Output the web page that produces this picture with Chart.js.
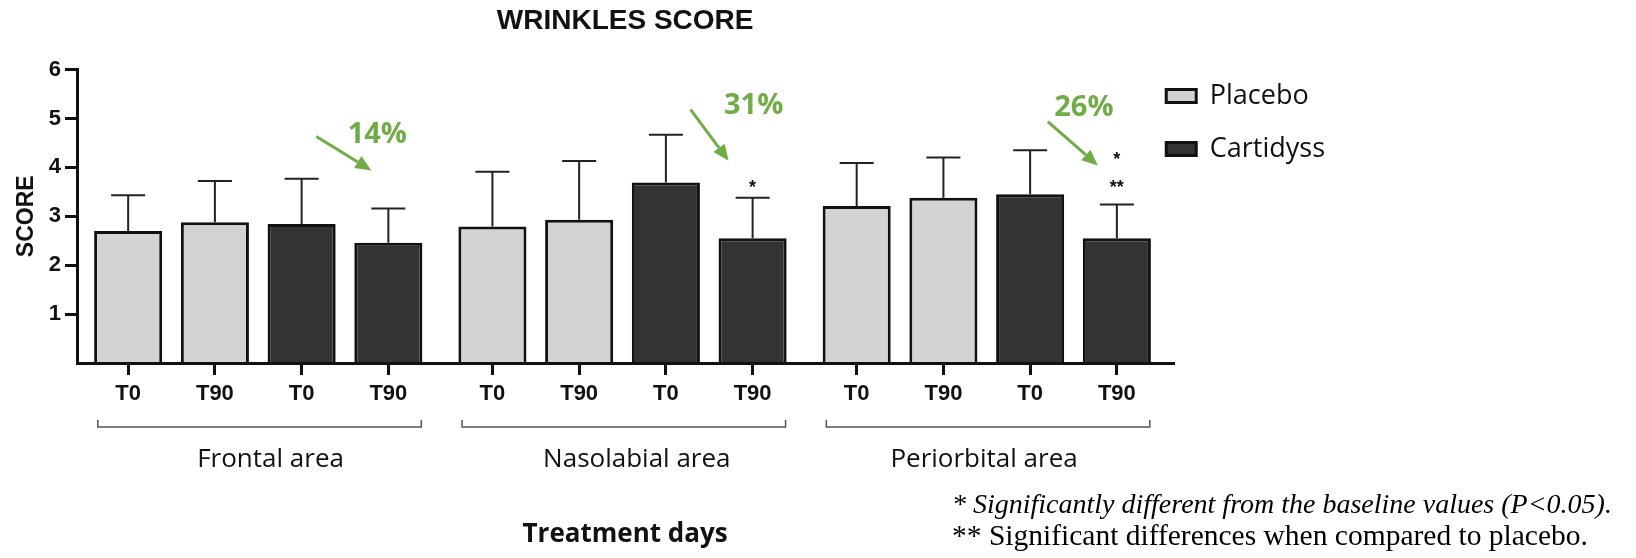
<!DOCTYPE html>
<html>
<head>
<meta charset="utf-8">
<script src="https://cdn.jsdelivr.net/npm/chart.js@4.4.1/dist/chart.umd.min.js"></script>
<style>
  html, body { margin: 0; padding: 0; background: #fff; }
  #wrap { width: 1636px; height: 558px; position: relative; }
</style>
</head>
<body>
<div id="wrap"><canvas id="myChart"></canvas></div>
<script>
const ctx = document.getElementById('myChart').getContext('2d');

// data (mean score and upper error bar)
const areas = ['Frontal area', 'Nasolabial area', 'Periorbital area'];
const timepoints = ['T0', 'T90'];
// per area: T0, T90
const placeboMean = [2.70, 2.88, 2.79, 2.93, 3.21, 3.38];
const placeboSD = [0.73, 0.84, 1.12, 1.20, 0.88, 0.82];
const cartidyssMean = [2.84, 2.46, 3.69, 2.55, 3.45, 2.55];
const cartidyssSD = [0.93, 0.70, 0.98, 0.83, 0.90, 0.69];
const yTicks = [1, 2, 3, 4, 5, 6];
// annotations on the Cartidyss T90 bar of each area
const reduction = ['14%', '31%', '26%'];
const sigBaseline = [false, true, true];
const sigPlacebo = [false, false, true];
const footnotes = [
    '* Significantly different from the baseline values (P<0.05).',
    '** Significant differences when compared to placebo.',
];

const GREEN = '#70ad47';
const GROUP_GAP = 0.2; // extra space between areas, in bar slots
const slotX = (area, slot) => area * 4 + slot + area * GROUP_GAP;

const placeboPoints = [];
const cartidyssPoints = [];
const tickPositions = [];
areas.forEach((a, k) => {
    timepoints.forEach((t, j) => {
        placeboPoints.push({ x: slotX(k, j), y: placeboMean[2 * k + j] });
        cartidyssPoints.push({ x: slotX(k, 2 + j), y: cartidyssMean[2 * k + j] });
    });
    for (let s = 0; s < 4; s++) tickPositions.push(slotX(k, s));
});

Chart.defaults.font.family = '"Liberation Sans", Arial, sans-serif';
Chart.defaults.color = '#111';

// upward error bars with caps
const errorBars = {
    id: 'errorBars',
    afterDatasetsDraw(chart) {
        const c = chart.ctx;
        const y = chart.scales.y;
        const sds = [placeboSD, cartidyssSD];
        c.save();
        c.strokeStyle = '#222';
        c.lineWidth = 2;
        chart.data.datasets.forEach((ds, d) => {
            chart.getDatasetMeta(d).data.forEach((bar, i) => {
                const top = y.getPixelForValue(ds.data[i].y + sds[d][i]);
                const half = bar.width / 4;
                c.beginPath();
                c.moveTo(bar.x, bar.y);
                c.lineTo(bar.x, top);
                c.moveTo(bar.x - half, top);
                c.lineTo(bar.x + half, top);
                c.stroke();
            });
        });
        c.restore();
    }
};

// offsets from the T90 Cartidyss bar (centre x, top of error bar)
const arrowLayout = [
    { tail: [-72, -72], tip: [-17, -38], text: [-11, -65] },
    { tail: [-62, -88], tip: [-24, -37], text: [1, -84] },
    { tail: [-69, -83], tip: [-19, -39], text: [-33, -89] },
];
const areaLabelNudge = [11, 13, -4];

function drawArrow(c, x0, y0, x1, y1) {
    const ang = Math.atan2(y1 - y0, x1 - x0);
    const len = 16, w = 7;
    const bx = x1 - len * Math.cos(ang), by = y1 - len * Math.sin(ang);
    c.beginPath();
    c.moveTo(x0, y0);
    c.lineTo(bx, by);
    c.stroke();
    c.beginPath();
    c.moveTo(x1, y1);
    c.lineTo(bx + w * Math.sin(ang), by - w * Math.cos(ang));
    c.lineTo(bx - w * Math.sin(ang), by + w * Math.cos(ang));
    c.closePath();
    c.fill();
}

const annotations = {
    id: 'annotations',
    afterDraw(chart) {
        const c = chart.ctx;
        const xs = chart.scales.x;
        const ys = chart.scales.y;
        const bottom = chart.chartArea.bottom;
        const meta = chart.getDatasetMeta(1);
        c.save();

        areas.forEach((name, k) => {
            // bracket and area name
            const x0 = xs.getPixelForValue(slotX(k, 0) - 0.35);
            const x1 = xs.getPixelForValue(slotX(k, 3) + 0.38);
            c.strokeStyle = '#555';
            c.lineWidth = 1.5;
            c.beginPath();
            c.moveTo(x0, bottom + 57);
            c.lineTo(x0, bottom + 64);
            c.lineTo(x1, bottom + 64);
            c.lineTo(x1, bottom + 57);
            c.stroke();
            c.fillStyle = '#111';
            c.font = '26px "Open Sans"';
            c.textAlign = 'center';
            c.textBaseline = 'alphabetic';
            c.fillText(name, (x0 + x1) / 2 + areaLabelNudge[k], bottom + 104);

            // arrow, percentage and significance marks on T90 Cartidyss
            const i = 2 * k + 1;
            const bar = meta.data[i];
            const top = ys.getPixelForValue(cartidyssMean[i] + cartidyssSD[i]);
            const L = arrowLayout[k];
            c.strokeStyle = GREEN;
            c.fillStyle = GREEN;
            c.lineWidth = 3;
            drawArrow(c, bar.x + L.tail[0], top + L.tail[1], bar.x + L.tip[0], top + L.tip[1]);
            c.font = 'bold 29px "Open Sans"';
            c.fillText(reduction[k], bar.x + L.text[0], top + L.text[1]);

            c.fillStyle = '#111';
            c.font = 'bold 18px "Liberation Sans"';
            if (sigPlacebo[k]) {
                c.fillText('**', bar.x, top - 12);
                if (sigBaseline[k]) c.fillText('*', bar.x, top - 40);
            } else if (sigBaseline[k]) {
                c.fillText('*', bar.x, top - 5);
            }
        });

        // footnotes
        c.textAlign = 'left';
        c.fillStyle = '#000';
        c.font = 'italic 28px "Liberation Serif"';
        c.fillText(footnotes[0], chart.width - 684, chart.height - 45);
        c.font = '29.5px "Liberation Serif"';
        c.fillText(footnotes[1], chart.width - 684, chart.height - 13);
        c.restore();
    }
};

// move the legend up and left, next to the end of the x axis
const legendNudge = {
    id: 'legendNudge',
    afterLayout(chart) {
        const lg = chart.legend;
        const dx = chart.chartArea.right - 33 - lg.left;
        lg.left += dx;
        lg.right += dx;
        lg.top -= 13;
        lg.bottom -= 13;
    }
};

const data = {
    datasets: [
        {
            label: 'Placebo',
            data: placeboPoints,
            backgroundColor: '#d3d3d3',
        },
        {
            label: 'Cartidyss',
            data: cartidyssPoints,
            backgroundColor: '#333333',
        },
    ],
};

const config = {
    type: 'bar',
    data: data,
    options: {
        responsive: true,
        maintainAspectRatio: false,
        animation: false,
        layout: { padding: { left: 0, right: 268, top: 0, bottom: 0 } },
        datasets: {
            bar: {
                grouped: false,
                categoryPercentage: 1,
                barPercentage: 0.785,
                borderWidth: 3,
                borderColor: '#111',
                borderSkipped: 'start',
            },
        },
        plugins: {
            title: {
                display: true,
                text: 'WRINKLES SCORE',
                fullSize: false,
                color: '#111',
                font: { size: 28, weight: 'bold' },
                padding: { top: 4, bottom: 32 },
            },
            legend: {
                position: 'right',
                align: 'start',
                fullSize: false,
                labels: {
                    boxWidth: 30,
                    boxHeight: 13,
                    padding: 26,
                    color: '#111',
                    font: { family: '"Open Sans"', size: 27 },
                },
            },
            tooltip: { enabled: false },
        },
        scales: {
            x: {
                type: 'linear',
                offset: false,
                min: -0.59,
                max: 12.05,
                afterBuildTicks: (s) => { s.ticks = tickPositions.map(v => ({ value: v })); },
                afterFit: (s) => { s.height = 195; },
                grid: { offset: false, drawOnChartArea: false, tickLength: 12, lineWidth: 3, color: '#111' },
                border: { color: '#111', width: 3, z: 1 },
                ticks: {
                    autoSkip: false,
                    maxRotation: 0,
                    padding: 6,
                    font: { size: 22, weight: 'bold' },
                    callback: (v, i) => timepoints[i % 2],
                },
                title: {
                    display: true,
                    text: 'Treatment days',
                    color: '#111',
                    font: { family: '"Open Sans"', size: 26, weight: 'bold' },
                    padding: { top: 0, bottom: 8 },
                },
            },
            y: {
                min: 0,
                max: 6,
                afterBuildTicks: (s) => { s.ticks = yTicks.map(v => ({ value: v })); },
                afterFit: (s) => { s.width = 77; },
                grid: { drawOnChartArea: false, tickLength: 12, lineWidth: 3, color: '#111' },
                border: { color: '#111', width: 3 },
                ticks: { padding: 4, font: { size: 22, weight: 'bold' } },
                title: {
                    display: true,
                    text: 'SCORE',
                    color: '#111',
                    font: { size: 23, weight: 'bold' },
                    padding: { top: 13 },
                },
            },
        },
    },
    plugins: [errorBars, annotations, legendNudge],
};

const myChart = new Chart(ctx, config);
</script>
</body>
</html>
